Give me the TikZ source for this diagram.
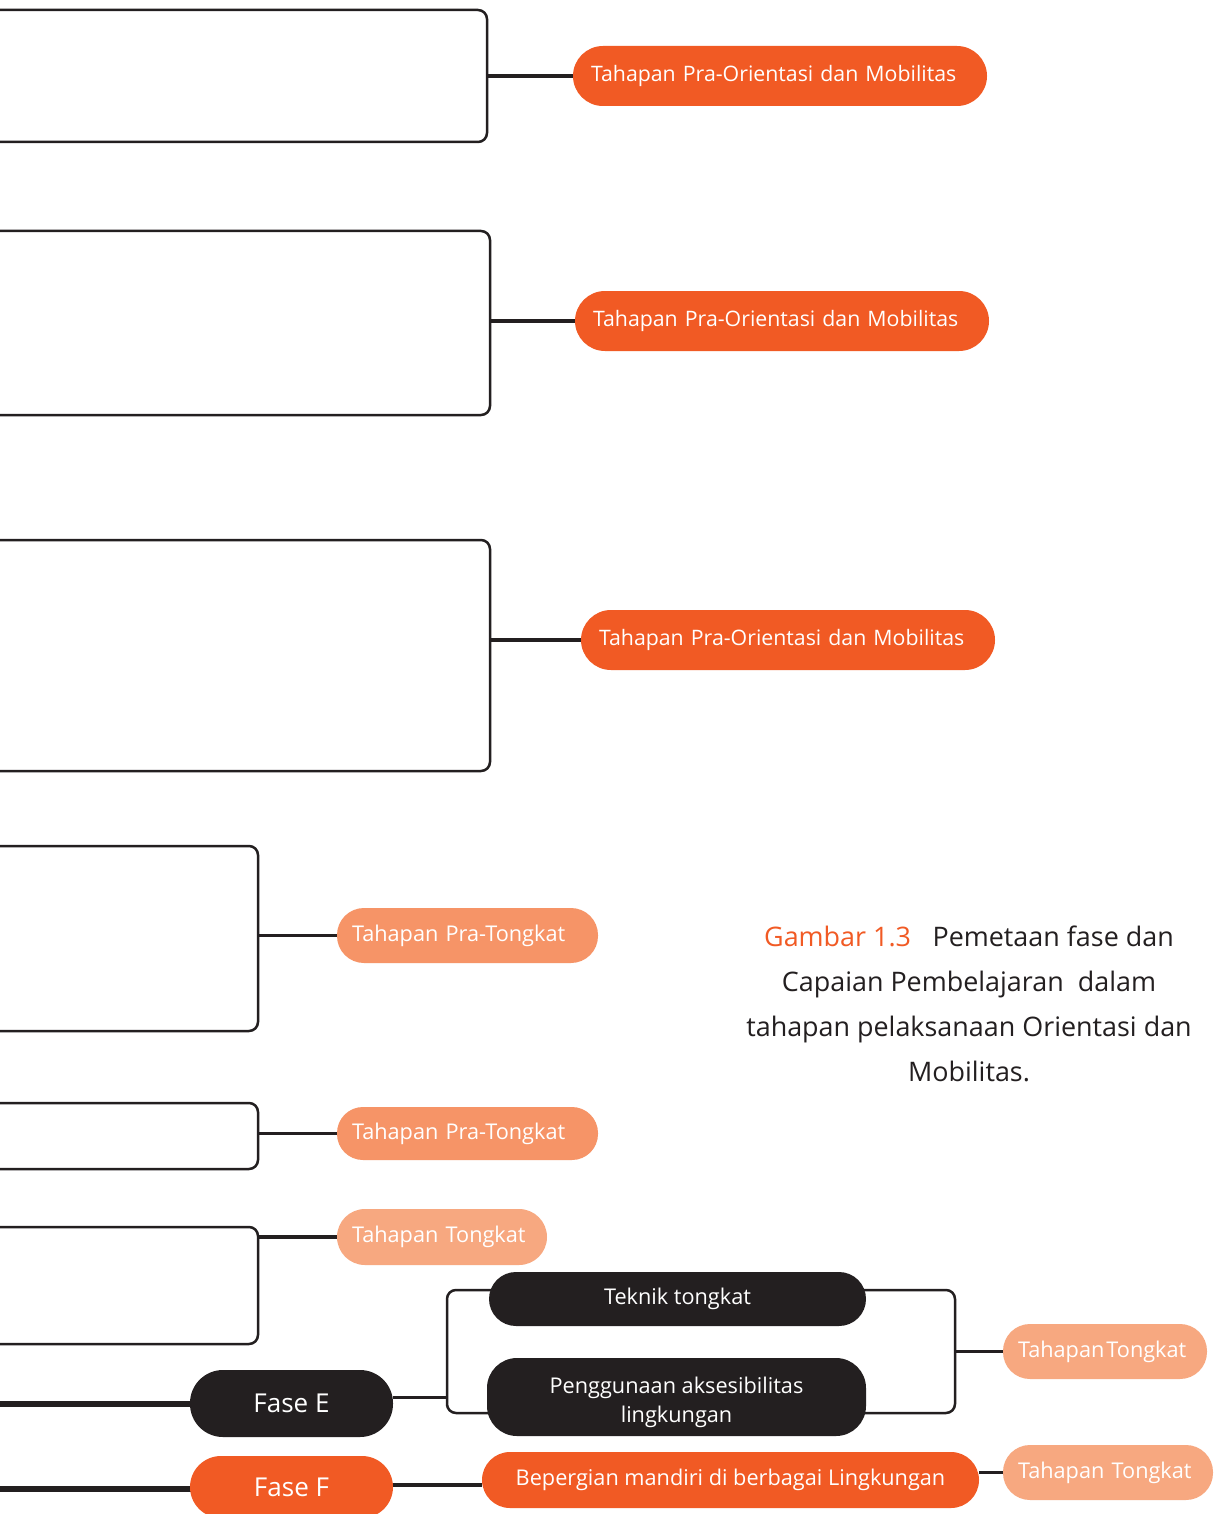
\documentclass[tikz,border=0pt]{standalone}
\usepackage{fontspec}
\setmainfont{Open Sans}
\usetikzlibrary{calc}
\definecolor{orng}{HTML}{F15A24}
\definecolor{salm}{HTML}{F69467}
\definecolor{lsalm}{HTML}{F7A880}
\definecolor{dark}{HTML}{231F20}
\pgfdeclarelayer{bg}\pgfsetlayers{bg,main}
\begin{document}
\begin{tikzpicture}[x=1pt,y=-1pt,
  frame/.style={draw=dark, line width=2.5pt, rounded corners=9pt, rectangle, inner sep=0pt},
  brk/.style={draw=dark, line width=2.5pt, rounded corners=9pt},
  conn/.style={draw=dark, line width=3.5pt},
  heavy/.style={draw=dark, line width=5.5pt},
  pill/.style 2 args={rectangle, rounded corners=#1, minimum height=#2, inner ysep=0pt, text=white, font=\fontsize{21.7}{29}\selectfont},
  leftpill/.style={align=left, inner xsep=#1},
  orientfont/.style={font=\fontsize{21.3}{29}\selectfont},
]
\useasboundingbox (0,0) rectangle (1218,1514);
\clip (0,0) rectangle (1218,1514);

% frames (open to the left edge)
\node[frame, minimum width=517pt, minimum height=132pt] (b1) at (228.5,76) {};
\node[frame, minimum width=520pt, minimum height=184pt] (b2) at (230,323) {};
\node[frame, minimum width=520pt, minimum height=231pt] (b3) at (230,655.5) {};
\node[frame, minimum width=288pt, minimum height=185pt] (b4) at (114,938.5) {};
\node[frame, minimum width=288pt, minimum height=66pt] (b5) at (114,1136) {};
\node[frame, minimum width=288pt, minimum height=117pt] (b6) at (114,1285.5) {};

% stage pills
\node[pill={30pt}{60pt}, orientfont, fill=orng, leftpill=18pt, text width=378pt] (p1) at (780,76) {Tahapan Pra-Orientasi dan Mobilitas};
\node[pill={30pt}{60pt}, orientfont, fill=orng, leftpill=18pt, text width=378pt] (p2) at (782,321) {Tahapan Pra-Orientasi dan Mobilitas};
\node[pill={30pt}{60pt}, orientfont, fill=orng, leftpill=18pt, text width=378pt] (p3) at (788,640) {Tahapan Pra-Orientasi dan Mobilitas};
\node[pill={27pt}{55pt}, fill=salm, leftpill=15pt, text width=231pt] (p4) at (467.5,935.5) {Tahapan Pra-Tongkat};
\node[pill={26pt}{53pt}, fill=salm, leftpill=15pt, text width=231pt] (p5) at (467.5,1133.5) {Tahapan Pra-Tongkat};
\node[pill={28pt}{56pt}, fill=lsalm, leftpill=15pt, text width=180pt] (p6) at (442,1237) {Tahapan Tongkat};

% Fase E branch
\node[pill={33pt}{67pt}, fill=dark, minimum width=203pt, font=\fontsize{26}{30}\selectfont] (faseE) at (291.5,1403.5) {Fase E};
\node[pill={27pt}{54pt}, fill=dark, minimum width=377pt] (tek) at (677.5,1299) {Teknik tongkat};
\node[pill={30pt}{78pt}, fill=dark, minimum width=379pt] (peng) at (676.5,1397)
  {\raisebox{-5pt}[\height][\depth]{\begin{tabular}{@{}c@{}}Penggunaan aksesibilitas\\lingkungan\end{tabular}}};
\node[pill={27pt}{55pt}, fill=lsalm, leftpill=15pt, text width=174pt] (tt1) at (1105,1351.5) {Tahapan\hspace{2pt}Tongkat};

% Fase F branch
\node[pill={31pt}{62pt}, fill=orng, minimum width=203pt, font=\fontsize{26}{30}\selectfont] (faseF) at (291.5,1487) {Fase F};
\node[pill={28pt}{56pt}, fill=orng, minimum width=497pt] (bep) at (730.5,1480) {Bepergian mandiri di berbagai Lingkungan};
\node[pill={27pt}{55pt}, fill=lsalm, leftpill=15pt, text width=180pt] (tt2) at (1108,1472.5) {Tahapan Tongkat};

% caption
\node[align=center, text=dark, font=\fontsize{26.9}{45}\selectfont] (cap) at (969,1004)
  {{\color{orng}Gambar 1.3}\hspace{0.8em}Pemetaan fase dan\\Capaian Pembelajaran\ \ dalam\\tahapan pelaksanaan Orientasi dan\\Mobilitas.};

\coordinate (lE) at (-5,1404);
\coordinate (lF) at (-5,1489);
\coordinate (bl) at (447,1397);
\coordinate (br) at (955,1351.5);

\begin{pgfonlayer}{bg}
\fill[white] (0,0) rectangle (1218,1514);
\draw[conn] (b1.east |- p1.west) -- (p1.west);
\draw[conn] (b2.east |- p2.west) -- (p2.west);
\draw[conn] (b3.east |- p3.west) -- (p3.west);
\draw[conn] (b4.east |- p4.west) -- (p4.west);
\draw[conn] (b5.east |- p5.west) -- (p5.west);
\draw[conn] (b6.east |- p6.west) -- (p6.west);
\draw[heavy] (lE) -- (lE -| faseE.center);
\draw[heavy] (lF) -- (lF -| faseF.center);
\draw[conn, line width=3pt] (faseE.east |- bl) -- (bl);
\draw[brk] ([yshift=9pt,xshift=12pt]tek.west) -| (bl) |- ([yshift=-16pt,xshift=12pt]peng.west);
\draw[brk] ([yshift=9pt,xshift=-12pt]tek.east) -| (br) |- ([yshift=-16pt,xshift=-12pt]peng.east);
\draw[conn] (br) -- (tt1.west);
\draw[conn] (faseF.east |- 0,1485) -- (bep.west |- 0,1485);
\draw[conn] (bep.east |- tt2.west) -- (tt2.west);
\end{pgfonlayer}
\end{tikzpicture}
\end{document}
